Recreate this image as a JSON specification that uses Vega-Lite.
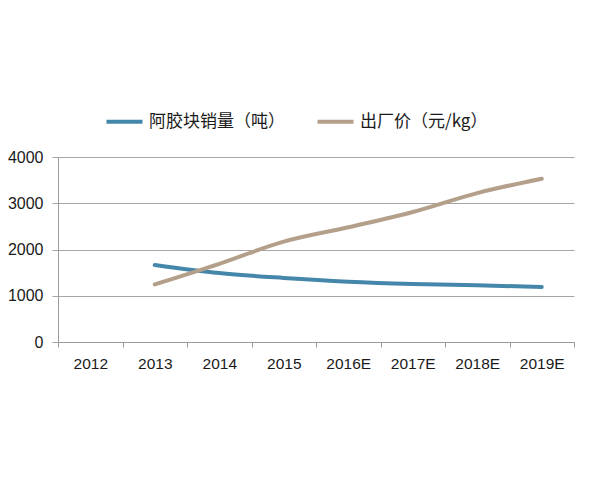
{
  "$schema": "https://vega.github.io/schema/vega-lite/v6.json",
  "width": 516,
  "height": 185,
  "autosize": "none",
  "padding": {"left": 58, "top": 157, "right": 26, "bottom": 138},
  "background": "white",
  "data": {
    "values": [
      {"year": "2013", "series": "阿胶块销量（吨）", "value": 1665},
      {"year": "2014", "series": "阿胶块销量（吨）", "value": 1490},
      {"year": "2015", "series": "阿胶块销量（吨）", "value": 1385},
      {"year": "2016E", "series": "阿胶块销量（吨）", "value": 1305},
      {"year": "2017E", "series": "阿胶块销量（吨）", "value": 1255},
      {"year": "2018E", "series": "阿胶块销量（吨）", "value": 1225},
      {"year": "2019E", "series": "阿胶块销量（吨）", "value": 1190},
      {"year": "2013", "series": "出厂价（元/kg）", "value": 1245},
      {"year": "2014", "series": "出厂价（元/kg）", "value": 1690},
      {"year": "2015", "series": "出厂价（元/kg）", "value": 2170},
      {"year": "2016E", "series": "出厂价（元/kg）", "value": 2480},
      {"year": "2017E", "series": "出厂价（元/kg）", "value": 2810},
      {"year": "2018E", "series": "出厂价（元/kg）", "value": 3220},
      {"year": "2019E", "series": "出厂价（元/kg）", "value": 3530}
    ]
  },
  "mark": {"type": "line", "strokeWidth": 4, "interpolate": "monotone", "strokeCap": "round"},
  "encoding": {
    "x": {
      "field": "year",
      "type": "ordinal",
      "scale": {"domain": ["2012", "2013", "2014", "2015", "2016E", "2017E", "2018E", "2019E"], "paddingInner": 0, "paddingOuter": 0},
      "axis": {
        "title": null,
        "labelAngle": 0,
        "tickBand": "extent",
        "ticks": true,
        "tickSize": 5,
        "tickColor": "#9a9a9a",
        "domainColor": "#9a9a9a",
        "grid": false,
        "labelFont": "Liberation Sans",
        "labelFontSize": 15.5,
        "labelColor": "#1a1a1a",
        "labelPadding": 9
      }
    },
    "y": {
      "field": "value",
      "type": "quantitative",
      "scale": {"domain": [0, 4000], "nice": false},
      "axis": {
        "title": null,
        "values": [0, 1000, 2000, 3000, 4000],
        "format": "d",
        "grid": true,
        "gridColor": "#a6a6a6",
        "tickColor": "#a6a6a6",
        "tickSize": 6,
        "domainColor": "#9a9a9a",
        "labelFont": "Liberation Sans",
        "labelFontSize": 16,
        "labelColor": "#1a1a1a",
        "labelPadding": 9
      }
    },
    "color": {
      "field": "series",
      "type": "nominal",
      "scale": {"domain": ["阿胶块销量（吨）", "出厂价（元/kg）"], "range": ["#4587AA", "#B39F8A"]},
      "legend": {
        "title": null,
        "orient": "none",
        "direction": "horizontal",
        "legendX": 46,
        "legendY": -56,
        "symbolType": "stroke",
        "symbolStrokeWidth": 4,
        "symbolSize": 1300,
        "labelFont": "Noto Sans CJK SC",
        "labelFontSize": 17,
        "labelColor": "#1a1a1a",
        "columnPadding": 24,
        "labelOffset": 4
      }
    }
  },
  "config": {"view": {"stroke": null}}
}
